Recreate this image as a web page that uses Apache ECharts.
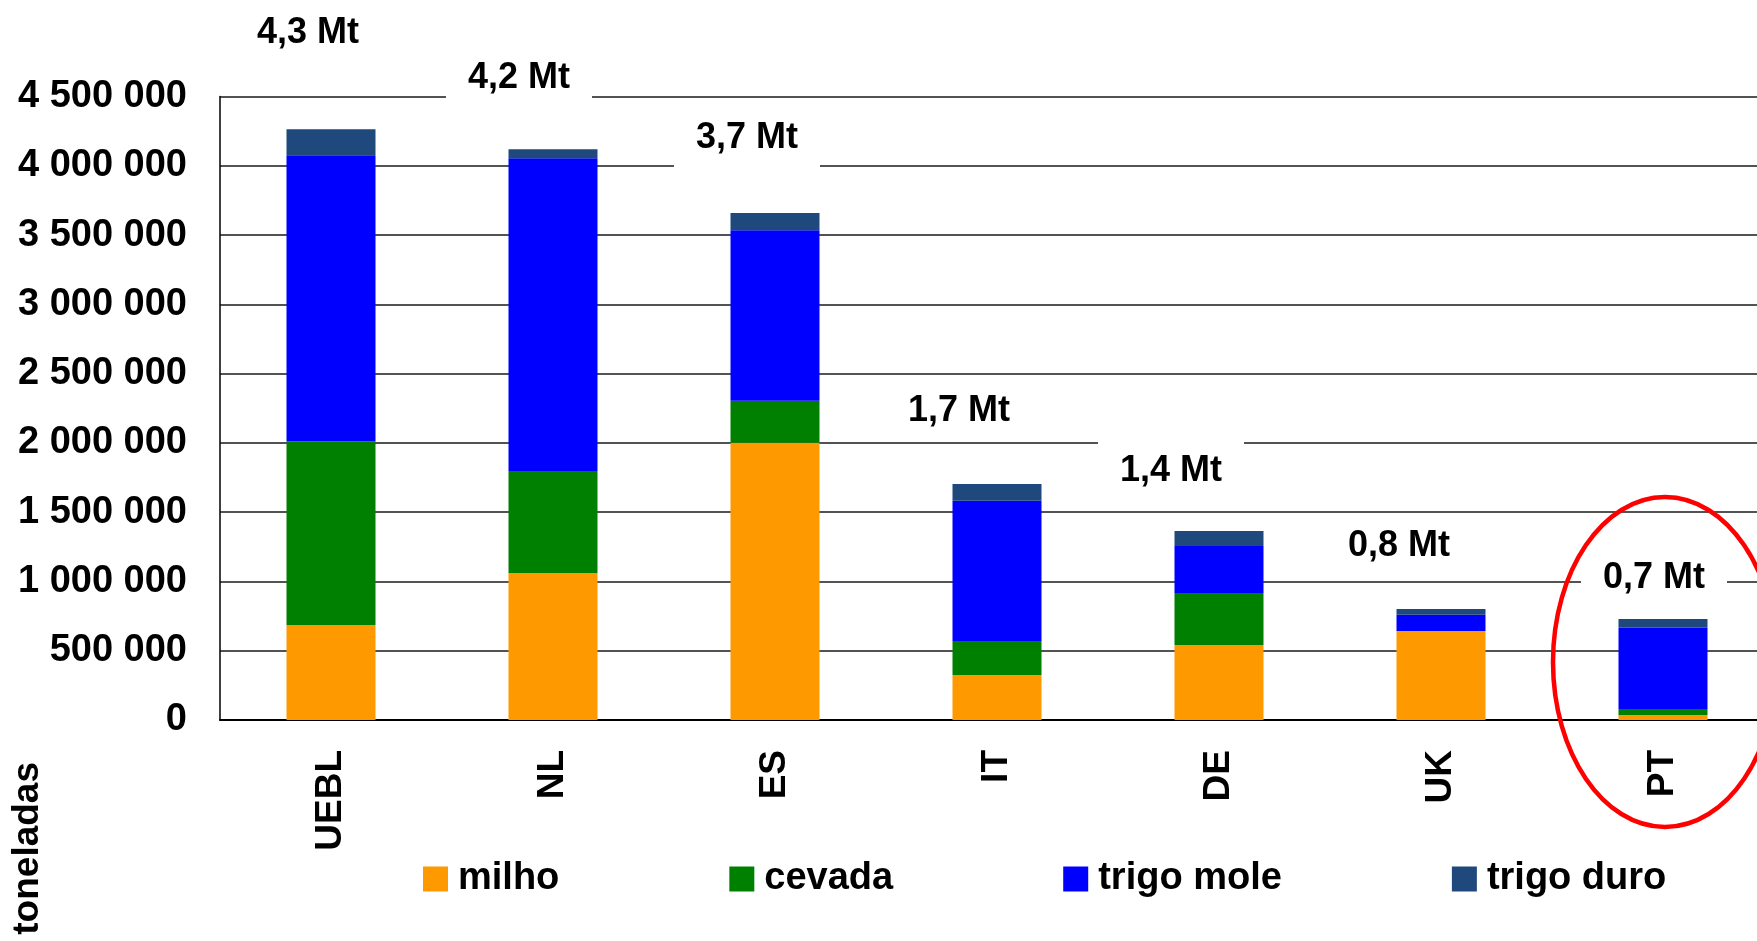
<!DOCTYPE html>
<html>
<head>
<meta charset="utf-8">
<title>Cereais por país</title>
<script src="https://cdn.jsdelivr.net/npm/echarts@6/dist/echarts.min.js"></script>
<style>
  html, body { margin: 0; padding: 0; background: #fff; }
  #chart { width: 1757px; height: 941px; }
</style>
</head>
<body>
<div id="chart"></div>
<script>
// Countries / groups on the horizontal axis
const categories = ['UEBL', 'NL', 'ES', 'IT', 'DE', 'UK', 'PT'];

// Tonnes per cereal, stacked in this order from the bottom
const milho      = [685000, 1061000, 2001000, 325000, 541000, 642000, 36000];
const cevada     = [1326000, 736000, 303000, 245000, 375000, 0, 43000];
const trigoMole  = [2065000, 2258000, 1231000, 1013000, 339000, 118000, 587000];
const trigoDuro  = [188000, 65000, 125000, 120000, 109000, 41000, 63000];

// Total labels written above each column
const totalLabels = ['4,3 Mt', '4,2 Mt', '3,7 Mt', '1,7 Mt', '1,4 Mt', '0,8 Mt', '0,7 Mt'];

// Series names shown in the legend
const seriesNames = ['milho', 'cevada', 'trigo mole', 'trigo duro'];

// Value axis ticks
const yMin = 0, yMax = 4500000, yStep = 500000;

const FONT = '"Liberation Sans", Arial, Helvetica, sans-serif';
const colors = ['#FF9900', '#008000', '#0000FF', '#1F497D'];

// Placement of each total label relative to the top of its column [dx, dy]
const labelShift = [[-23, -66], [-34, -41], [-28, -45], [-38, -43], [-48, -30], [-42, -33], [-9, -11]];

function spaced(v) {
  return String(v).replace(/\B(?=(\d{3})+(?!\d))/g, ' ');
}

const chart = echarts.init(document.getElementById('chart'), null, { renderer: 'canvas' });

const values = [milho, cevada, trigoMole, trigoDuro];

const series = seriesNames.map((name, s) => {
  const isTop = s === seriesNames.length - 1;
  return {
    name: name,
    type: 'bar',
    stack: 'total',
    barWidth: 89,
    itemStyle: { color: colors[s] },
    emphasis: { disabled: true },
    z: 3,
    data: values[s].map((v, i) => {
      const item = { value: v };
      if (isTop) {
        item.label = {
          show: true,
          position: 'top',
          distance: 0,
          offset: labelShift[i],
          formatter: totalLabels[i],
          fontFamily: FONT,
          fontSize: 36,
          fontWeight: 'bold',
          color: '#000',
          lineHeight: 36,
          backgroundColor: '#fff',
          padding: [12, 22, 12, 22]
        };
      }
      return item;
    })
  };
});

const option = {
  animation: false,
  backgroundColor: '#fff',
  textStyle: { fontFamily: FONT },
  // the plot runs a little past the right edge of the canvas
  grid: {
    left: 220, top: 96.5, width: 1554, bottom: 221,
    containLabel: false,
    outerBoundsMode: 'none'
  },
  legend: {
    data: seriesNames,
    left: 418,
    top: 855,
    orient: 'horizontal',
    itemWidth: 25,
    itemHeight: 25,
    itemGap: 170,
    icon: 'rect',
    selectedMode: false,
    textStyle: {
      fontFamily: FONT,
      fontSize: 38,
      fontWeight: 'bold',
      color: '#000',
      padding: [0, 0, 0, 5]
    }
  },
  xAxis: {
    type: 'category',
    data: categories,
    axisLine: { show: true, lineStyle: { color: '#000', width: 2 } },
    axisTick: { show: false },
    axisLabel: {
      rotate: 90,
      margin: 30,
      fontFamily: FONT,
      fontSize: 37,
      fontWeight: 'bold',
      color: '#000'
    }
  },
  yAxis: {
    type: 'value',
    min: yMin,
    max: yMax,
    interval: yStep,
    axisLine: { show: true, lineStyle: { color: '#000', width: 1.5 } },
    axisTick: { show: false },
    splitLine: { show: true, lineStyle: { color: '#1a1a1a', width: 1.5 } },
    axisLabel: {
      margin: 33,
      fontFamily: FONT,
      fontSize: 38,
      fontWeight: 'bold',
      color: '#000',
      formatter: spaced
    }
  },
  series: series
};

chart.setOption(option);

// Red ring around the PT column and the rotated unit name
const ptCenter = chart.convertToPixel({ xAxisIndex: 0, yAxisIndex: 0 }, ['PT', 0]);
chart.setOption({
  graphic: [
    {
      type: 'ellipse',
      z: 100,
      shape: { cx: ptCenter[0] + 2, cy: ptCenter[1] - 58, rx: 112, ry: 165 },
      style: { fill: 'none', stroke: '#FF0000', lineWidth: 4.5 }
    },
    {
      type: 'text',
      z: 100,
      x: 28,
      y: 762,
      rotation: Math.PI / 2,
      style: {
        text: 'toneladas',
        font: 'bold 37px ' + FONT,
        fill: '#000',
        align: 'right',
        verticalAlign: 'middle'
      }
    }
  ]
});
</script>
</body>
</html>
